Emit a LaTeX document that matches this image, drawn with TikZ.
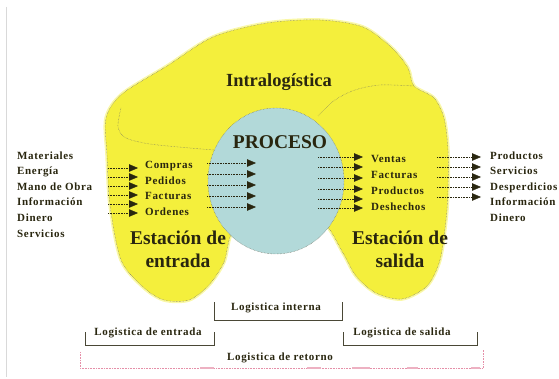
\documentclass[tikz,border=0pt]{standalone}
\usepackage{fontspec}
\setmainfont{Liberation Serif}
\newfontfamily\espaciada[LetterSpace=6]{Liberation Serif}
\usetikzlibrary{arrows.meta,shapes.geometric}
\definecolor{tinta}{HTML}{29260F}
\definecolor{amar}{HTML}{F4EF3C}
\definecolor{celeste}{HTML}{B2D9D9}
\definecolor{borde}{HTML}{6E6D62}
\definecolor{corch}{HTML}{4A4836}
\definecolor{rosa}{HTML}{E58FA8}

\begin{document}
\begin{tikzpicture}[x=1pt, y=-1pt,
  lista/.style={align=left, anchor=north west, inner sep=0pt, text=tinta, font=\espaciada\bfseries\fontsize{11}{15.6}\selectfont},
  titulo/.style={align=center, inner sep=0pt, text=tinta, font=\bfseries\fontsize{19.5}{23}\selectfont},
  etiq/.style={anchor=base, inner sep=0pt, text=tinta, font=\espaciada\bfseries\fontsize{11}{13}\selectfont},
  flecha/.style={densely dotted, line width=0.6pt, draw=tinta, -{Triangle[length=9pt,width=7.5pt,fill=tinta,line width=0.4pt]}},
  contorno/.style={densely dotted, line width=0.45pt, draw=borde},
  corchete/.style={line width=0.8pt, draw=corch}]
\useasboundingbox (0,0) rectangle (559,379);
\draw[gray!30, line width=0.6pt] (6,7) -- (6,377);
% ---------------- zona amarilla
\path[fill=amar, contorno, preaction={draw=amar!45, line width=3.5pt, solid}]
  plot[smooth cycle] coordinates {(233,232) (224,262) (209,285) (189,300) (164,300) (143,287)
  (121,260) (110,205) (107,155) (106,118) (122,94) (167,66) (213,37) (267,23) (320,20)
  (363,27) (392,48) (408,68) (414,86) (434,98) (444,118) (448,150) (448,190) (446,220)
  (440,260) (427,286) (402,299) (376,293) (356,276) (343,253) (324,224) (300,238) (260,240)};
\draw[contorno] plot[smooth] coordinates {(121,108) (118,127) (126,138) (150,144) (190,148) (214,150)};
\draw[contorno] plot[smooth] coordinates {(318,116) (335,100) (355,90) (380,85) (414,86)};
% ---------------- proceso
\node[ellipse, fill=celeste, contorno, draw=tinta!70, minimum width=136pt, minimum height=146pt] (circ) at (276,181) {};
\node[titulo, anchor=base] (proc) at (280,148.5) {PROCESO};
\node[titulo, anchor=base, font=\bfseries\fontsize{18.5}{22}\selectfont] (intra) at (279,86.3) {Intralogística};
\node[titulo, anchor=north] (estent) at (178,230.5) {Estación de\\entrada};
\node[titulo, anchor=north] (estsal) at (400,230.5) {Estación de\\salida};
% ---------------- listas
\node[lista] (insumos) at (17,151.2) {Materiales\\Energía\\Mano de Obra\\Información\\Dinero\\Servicios};
\node[lista] (docent) at (145,161) {Compras\\Pedidos\\Facturas\\Ordenes};
\node[lista, font=\espaciada\bfseries\fontsize{11}{16}\selectfont] (docsal) at (371,155.5) {Ventas\\Facturas\\Productos\\Deshechos};
\node[lista] (salidas) at (490,151.2) {Productos\\Servicios\\Desperdicios\\Información\\Dinero};
% ---------------- flechas
\foreach \y [count=\i] in {168,177,186,195,204,213}{
  \coordinate (ea\i) at (108,\y); \coordinate (eb\i) at (138,\y);
  \draw[flecha] (ea\i) -- (eb\i);}
\foreach \y [count=\i] in {163,174,185,196,207}{
  \coordinate (pa\i) at (207,\y); \coordinate (pb\i) at (256,\y);
  \draw[flecha] (pa\i) -- (pb\i);}
\foreach \y [count=\i] in {157,167,178,189,199,208}{
  \coordinate (qa\i) at (318,\y); \coordinate (qb\i) at (363,\y);
  \draw[flecha] (qa\i) -- (qb\i);}
\foreach \y [count=\i] in {157,167,177,187,197}{
  \coordinate (sa\i) at (437,\y); \coordinate (sb\i) at (481,\y);
  \draw[flecha] (sa\i) -- (sb\i);}
% ---------------- logistica
\node[etiq] (lint) at (276,310.6) {Logistica interna};
\node[etiq] (lent) at (148,335.6) {Logistica de entrada};
\node[etiq] (lsal) at (402,335.6) {Logistica de salida};
\node[etiq] (lret) at (280,360.6) {Logistica de retorno};
\draw[corchete] (214,302) |- (342,320) -- (342,302);
\draw[corchete] (85,332) |- (214,345) -- (214,332);
\draw[corchete] (343,332) |- (477,345) -- (477,332);
\draw[densely dotted, rosa, line width=0.6pt] (80,352) |- (483,368) -- (483,350);
\foreach \a/\b in {200/214,307/321,352/370,407/418,471/480}
  \draw[rosa!70, line width=1.6pt] (\a,368) -- (\b,368);
\end{tikzpicture}
\end{document}
